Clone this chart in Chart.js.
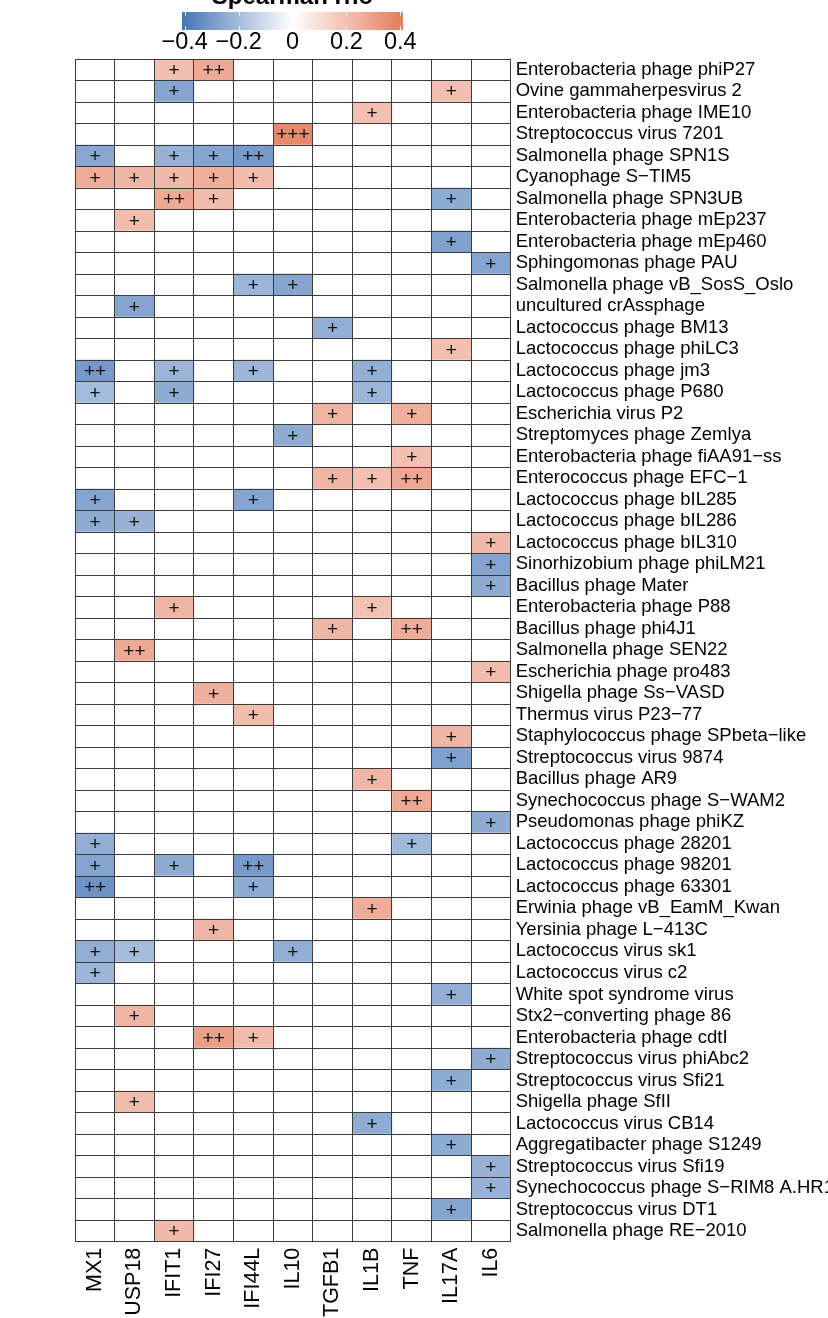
<!DOCTYPE html>
<html>
<head>
<meta charset="utf-8">
<script src="https://cdn.jsdelivr.net/npm/chart.js@4.4.1/dist/chart.umd.min.js"></script>
<style>
  html, body { margin: 0; padding: 0; background: #fff; overflow: hidden; }
  canvas { display: block; }
</style>
</head>
<body>
<canvas id="heatmap" width="828" height="1318"></canvas>
<script>
const genes = ['MX1', 'USP18', 'IFIT1', 'IFI27', 'IFI44L', 'IL10', 'TGFB1', 'IL1B', 'TNF', 'IL17A', 'IL6'];

const phages = [
    'Enterobacteria phage phiP27', 'Ovine gammaherpesvirus 2', 'Enterobacteria phage IME10',
    'Streptococcus virus 7201', 'Salmonella phage SPN1S', 'Cyanophage S\u2212TIM5',
    'Salmonella phage SPN3UB', 'Enterobacteria phage mEp237', 'Enterobacteria phage mEp460',
    'Sphingomonas phage PAU', 'Salmonella phage vB_SosS_Oslo', 'uncultured crAssphage',
    'Lactococcus phage BM13', 'Lactococcus phage phiLC3', 'Lactococcus phage jm3',
    'Lactococcus phage P680', 'Escherichia virus P2', 'Streptomyces phage Zemlya',
    'Enterobacteria phage fiAA91\u2212ss', 'Enterococcus phage EFC\u22121', 'Lactococcus phage bIL285',
    'Lactococcus phage bIL286', 'Lactococcus phage bIL310', 'Sinorhizobium phage phiLM21',
    'Bacillus phage Mater', 'Enterobacteria phage P88', 'Bacillus phage phi4J1',
    'Salmonella phage SEN22', 'Escherichia phage pro483', 'Shigella phage Ss\u2212VASD',
    'Thermus virus P23\u221277', 'Staphylococcus phage SPbeta\u2212like', 'Streptococcus virus 9874',
    'Bacillus phage AR9', 'Synechococcus phage S\u2212WAM2', 'Pseudomonas phage phiKZ',
    'Lactococcus phage 28201', 'Lactococcus phage 98201', 'Lactococcus phage 63301',
    'Erwinia phage vB_EamM_Kwan', 'Yersinia phage L\u2212413C', 'Lactococcus virus sk1',
    'Lactococcus virus c2', 'White spot syndrome virus', 'Stx2\u2212converting phage 86',
    'Enterobacteria phage cdtI', 'Streptococcus virus phiAbc2', 'Streptococcus virus Sfi21',
    'Shigella phage SfII', 'Lactococcus virus CB14', 'Aggregatibacter phage S1249',
    'Streptococcus virus Sfi19', 'Synechococcus phage S\u2212RIM8 A.HR1', 'Streptococcus virus DT1',
    'Salmonella phage RE\u22122010'
];

// Spearman rho per phage (rows) and gene (columns), 0 = not shown
const rho = [
    [0, 0, .20, .27, 0, 0, 0, 0, 0, 0, 0],
    [0, 0, -.27, 0, 0, 0, 0, 0, 0, .20, 0],
    [0, 0, 0, 0, 0, 0, 0, .20, 0, 0, 0],
    [0, 0, 0, 0, 0, .37, 0, 0, 0, 0, 0],
    [-.26, 0, -.23, -.27, -.30, 0, 0, 0, 0, 0, 0],
    [.26, .23, .22, .25, .21, 0, 0, 0, 0, 0, 0],
    [0, 0, .27, .21, 0, 0, 0, 0, 0, -.25, 0],
    [0, .21, 0, 0, 0, 0, 0, 0, 0, 0, 0],
    [0, 0, 0, 0, 0, 0, 0, 0, 0, -.28, 0],
    [0, 0, 0, 0, 0, 0, 0, 0, 0, 0, -.27],
    [0, 0, 0, 0, -.22, -.27, 0, 0, 0, 0, 0],
    [0, -.27, 0, 0, 0, 0, 0, 0, 0, 0, 0],
    [0, 0, 0, 0, 0, 0, -.24, 0, 0, 0, 0],
    [0, 0, 0, 0, 0, 0, 0, 0, 0, .20, 0],
    [-.30, 0, -.22, 0, -.22, 0, 0, -.24, 0, 0, 0],
    [-.20, 0, -.25, 0, 0, 0, 0, -.22, 0, 0, 0],
    [0, 0, 0, 0, 0, 0, .24, 0, .25, 0, 0],
    [0, 0, 0, 0, 0, -.25, 0, 0, 0, 0, 0],
    [0, 0, 0, 0, 0, 0, 0, 0, .20, 0, 0],
    [0, 0, 0, 0, 0, 0, .23, .20, .28, 0, 0],
    [-.27, 0, 0, 0, -.27, 0, 0, 0, 0, 0, 0],
    [-.25, -.23, 0, 0, 0, 0, 0, 0, 0, 0, 0],
    [0, 0, 0, 0, 0, 0, 0, 0, 0, 0, .22],
    [0, 0, 0, 0, 0, 0, 0, 0, 0, 0, -.27],
    [0, 0, 0, 0, 0, 0, 0, 0, 0, 0, -.25],
    [0, 0, .23, 0, 0, 0, 0, .19, 0, 0, 0],
    [0, 0, 0, 0, 0, 0, .23, 0, .26, 0, 0],
    [0, .27, 0, 0, 0, 0, 0, 0, 0, 0, 0],
    [0, 0, 0, 0, 0, 0, 0, 0, 0, 0, .21],
    [0, 0, 0, .25, 0, 0, 0, 0, 0, 0, 0],
    [0, 0, 0, 0, .21, 0, 0, 0, 0, 0, 0],
    [0, 0, 0, 0, 0, 0, 0, 0, 0, .23, 0],
    [0, 0, 0, 0, 0, 0, 0, 0, 0, -.28, 0],
    [0, 0, 0, 0, 0, 0, 0, .23, 0, 0, 0],
    [0, 0, 0, 0, 0, 0, 0, 0, .27, 0, 0],
    [0, 0, 0, 0, 0, 0, 0, 0, 0, 0, -.25],
    [-.24, 0, 0, 0, 0, 0, 0, 0, -.21, 0, 0],
    [-.27, 0, -.25, 0, -.30, 0, 0, 0, 0, 0, 0],
    [-.32, 0, 0, 0, -.25, 0, 0, 0, 0, 0, 0],
    [0, 0, 0, 0, 0, 0, 0, .26, 0, 0, 0],
    [0, 0, 0, .23, 0, 0, 0, 0, 0, 0, 0],
    [-.24, -.20, 0, 0, 0, -.24, 0, 0, 0, 0, 0],
    [-.22, 0, 0, 0, 0, 0, 0, 0, 0, 0, 0],
    [0, 0, 0, 0, 0, 0, 0, 0, 0, -.24, 0],
    [0, .23, 0, 0, 0, 0, 0, 0, 0, 0, 0],
    [0, 0, 0, .30, .21, 0, 0, 0, 0, 0, 0],
    [0, 0, 0, 0, 0, 0, 0, 0, 0, 0, -.25],
    [0, 0, 0, 0, 0, 0, 0, 0, 0, -.25, 0],
    [0, .21, 0, 0, 0, 0, 0, 0, 0, 0, 0],
    [0, 0, 0, 0, 0, 0, 0, -.25, 0, 0, 0],
    [0, 0, 0, 0, 0, 0, 0, 0, 0, -.25, 0],
    [0, 0, 0, 0, 0, 0, 0, 0, 0, 0, -.23],
    [0, 0, 0, 0, 0, 0, 0, 0, 0, 0, -.23],
    [0, 0, 0, 0, 0, 0, 0, 0, 0, -.27, 0],
    [0, 0, .22, 0, 0, 0, 0, 0, 0, 0, 0]
];

// number of "+" signs per cell
const stars = [
    [0, 0, 1, 2, 0, 0, 0, 0, 0, 0, 0],
    [0, 0, 1, 0, 0, 0, 0, 0, 0, 1, 0],
    [0, 0, 0, 0, 0, 0, 0, 1, 0, 0, 0],
    [0, 0, 0, 0, 0, 3, 0, 0, 0, 0, 0],
    [1, 0, 1, 1, 2, 0, 0, 0, 0, 0, 0],
    [1, 1, 1, 1, 1, 0, 0, 0, 0, 0, 0],
    [0, 0, 2, 1, 0, 0, 0, 0, 0, 1, 0],
    [0, 1, 0, 0, 0, 0, 0, 0, 0, 0, 0],
    [0, 0, 0, 0, 0, 0, 0, 0, 0, 1, 0],
    [0, 0, 0, 0, 0, 0, 0, 0, 0, 0, 1],
    [0, 0, 0, 0, 1, 1, 0, 0, 0, 0, 0],
    [0, 1, 0, 0, 0, 0, 0, 0, 0, 0, 0],
    [0, 0, 0, 0, 0, 0, 1, 0, 0, 0, 0],
    [0, 0, 0, 0, 0, 0, 0, 0, 0, 1, 0],
    [2, 0, 1, 0, 1, 0, 0, 1, 0, 0, 0],
    [1, 0, 1, 0, 0, 0, 0, 1, 0, 0, 0],
    [0, 0, 0, 0, 0, 0, 1, 0, 1, 0, 0],
    [0, 0, 0, 0, 0, 1, 0, 0, 0, 0, 0],
    [0, 0, 0, 0, 0, 0, 0, 0, 1, 0, 0],
    [0, 0, 0, 0, 0, 0, 1, 1, 2, 0, 0],
    [1, 0, 0, 0, 1, 0, 0, 0, 0, 0, 0],
    [1, 1, 0, 0, 0, 0, 0, 0, 0, 0, 0],
    [0, 0, 0, 0, 0, 0, 0, 0, 0, 0, 1],
    [0, 0, 0, 0, 0, 0, 0, 0, 0, 0, 1],
    [0, 0, 0, 0, 0, 0, 0, 0, 0, 0, 1],
    [0, 0, 1, 0, 0, 0, 0, 1, 0, 0, 0],
    [0, 0, 0, 0, 0, 0, 1, 0, 2, 0, 0],
    [0, 2, 0, 0, 0, 0, 0, 0, 0, 0, 0],
    [0, 0, 0, 0, 0, 0, 0, 0, 0, 0, 1],
    [0, 0, 0, 1, 0, 0, 0, 0, 0, 0, 0],
    [0, 0, 0, 0, 1, 0, 0, 0, 0, 0, 0],
    [0, 0, 0, 0, 0, 0, 0, 0, 0, 1, 0],
    [0, 0, 0, 0, 0, 0, 0, 0, 0, 1, 0],
    [0, 0, 0, 0, 0, 0, 0, 1, 0, 0, 0],
    [0, 0, 0, 0, 0, 0, 0, 0, 2, 0, 0],
    [0, 0, 0, 0, 0, 0, 0, 0, 0, 0, 1],
    [1, 0, 0, 0, 0, 0, 0, 0, 1, 0, 0],
    [1, 0, 1, 0, 2, 0, 0, 0, 0, 0, 0],
    [2, 0, 0, 0, 1, 0, 0, 0, 0, 0, 0],
    [0, 0, 0, 0, 0, 0, 0, 1, 0, 0, 0],
    [0, 0, 0, 1, 0, 0, 0, 0, 0, 0, 0],
    [1, 1, 0, 0, 0, 1, 0, 0, 0, 0, 0],
    [1, 0, 0, 0, 0, 0, 0, 0, 0, 0, 0],
    [0, 0, 0, 0, 0, 0, 0, 0, 0, 1, 0],
    [0, 1, 0, 0, 0, 0, 0, 0, 0, 0, 0],
    [0, 0, 0, 2, 1, 0, 0, 0, 0, 0, 0],
    [0, 0, 0, 0, 0, 0, 0, 0, 0, 0, 1],
    [0, 0, 0, 0, 0, 0, 0, 0, 0, 1, 0],
    [0, 1, 0, 0, 0, 0, 0, 0, 0, 0, 0],
    [0, 0, 0, 0, 0, 0, 0, 1, 0, 0, 0],
    [0, 0, 0, 0, 0, 0, 0, 0, 0, 1, 0],
    [0, 0, 0, 0, 0, 0, 0, 0, 0, 0, 1],
    [0, 0, 0, 0, 0, 0, 0, 0, 0, 0, 1],
    [0, 0, 0, 0, 0, 0, 0, 0, 0, 1, 0],
    [0, 0, 1, 0, 0, 0, 0, 0, 0, 0, 0]
];

const legendTicks = [-0.4, -0.2, 0, 0.2, 0.4];
const rhoLimit = 0.41;

const lowColor = [69, 117, 182];
const highColor = [229, 124, 94];
const gridColor = '#3a3a3a';
const fontFamily = "'Liberation Sans', Arial, Helvetica, sans-serif";

function rhoColor(v) {
    if (!v) return '#ffffff';
    const t = Math.min(Math.abs(v) / rhoLimit, 1);
    const end = v < 0 ? lowColor : highColor;
    const c = end.map(e => Math.round(255 + (e - 255) * t));
    return `rgb(${c[0]}, ${c[1]}, ${c[2]})`;
}

function fmtTick(v) {
    return v < 0 ? '\u2212' + Math.abs(v).toFixed(1) : (v === 0 ? '0' : v.toFixed(1));
}

Chart.defaults.font.family = fontFamily;
Chart.defaults.color = '#000';

// "+" marks in the middle of each significant cell
const plusSigns = {
    id: 'plusSigns',
    afterDatasetsDraw(chart) {
        const ctx = chart.ctx;
        ctx.save();
        ctx.font = `19px ${fontFamily}`;
        ctx.fillStyle = '#111';
        ctx.textAlign = 'center';
        ctx.textBaseline = 'middle';
        chart.data.datasets.forEach((ds, g) => {
            chart.getDatasetMeta(g).data.forEach((bar, r) => {
                const n = stars[r][g];
                if (!n) return;
                const p = bar.getCenterPoint();
                ctx.fillText('+'.repeat(n), p.x, p.y + 1);
            });
        });
        ctx.restore();
    }
};

// colour bar legend at the top
const colorBar = {
    id: 'colorBar',
    afterDraw(chart) {
        const ctx = chart.ctx;
        const x0 = 182, x1 = 403, y0 = 12, y1 = 30;
        const toX = v => x0 + (v + rhoLimit) / (2 * rhoLimit) * (x1 - x0);
        ctx.save();
        const grad = ctx.createLinearGradient(x0, 0, x1, 0);
        grad.addColorStop(0, rhoColor(-rhoLimit));
        grad.addColorStop(0.5, '#ffffff');
        grad.addColorStop(1, rhoColor(rhoLimit));
        ctx.fillStyle = grad;
        ctx.fillRect(x0, y0, x1 - x0, y1 - y0);

        ctx.strokeStyle = '#ffffff';
        ctx.lineWidth = 1;
        const tl = (y1 - y0) / 5;
        legendTicks.forEach(v => {
            const x = Math.round(toX(v)) + 0.5;
            ctx.beginPath();
            ctx.moveTo(x, y0); ctx.lineTo(x, y0 + tl);
            ctx.moveTo(x, y1); ctx.lineTo(x, y1 - tl);
            ctx.stroke();
        });

        ctx.fillStyle = '#000';
        ctx.textAlign = 'center';
        ctx.textBaseline = 'alphabetic';
        ctx.font = `23.5px ${fontFamily}`;
        legendTicks.forEach(v => ctx.fillText(fmtTick(v), toX(v), 49));

        ctx.font = `bold 24px ${fontFamily}`;
        ctx.fillText('Spearman rho', (x0 + x1) / 2, 4);
        ctx.restore();
    }
};

new Chart(document.getElementById('heatmap'), {
    type: 'bar',
    data: {
        labels: phages,
        datasets: genes.map((gene, g) => ({
            label: gene,
            data: phages.map(() => 1),
            backgroundColor: phages.map((_, r) => rhoColor(rho[r][g])),
            borderWidth: 0,
            barPercentage: 1,
            categoryPercentage: 1,
            xAxisID: 'x',
            yAxisID: 'y'
        }))
    },
    options: {
        indexAxis: 'y',
        responsive: false,
        animation: false,
        layout: { padding: { left: 75, top: 59, right: 0, bottom: 0 } },
        plugins: {
            legend: { display: false },
            tooltip: { enabled: false }
        },
        scales: {
            x: {
                type: 'linear',
                stacked: true,
                min: 0,
                max: genes.length,
                position: 'bottom',
                z: 1,
                ticks: { display: false, stepSize: 1 },
                grid: { color: gridColor, lineWidth: 1, drawTicks: false, z: 1 },
                border: { display: false }
            },
            genes: {
                type: 'category',
                labels: genes,
                position: 'bottom',
                offset: true,
                grid: { display: false, drawTicks: false },
                border: { display: false },
                ticks: { autoSkip: false, minRotation: 90, maxRotation: 90, padding: 6, font: { size: 21.5 } },
                afterFit(scale) { scale.height = 76.3; }
            },
            y: {
                type: 'category',
                position: 'right',
                stacked: true,
                z: 1,
                grid: { color: gridColor, lineWidth: 1, drawTicks: false, offset: true, z: 1 },
                border: { display: false },
                ticks: { autoSkip: false, padding: 5, font: { size: 18.5 } },
                afterFit(scale) { scale.width = 317.3; }
            }
        }
    },
    plugins: [plusSigns, colorBar]
});
</script>
</body>
</html>
